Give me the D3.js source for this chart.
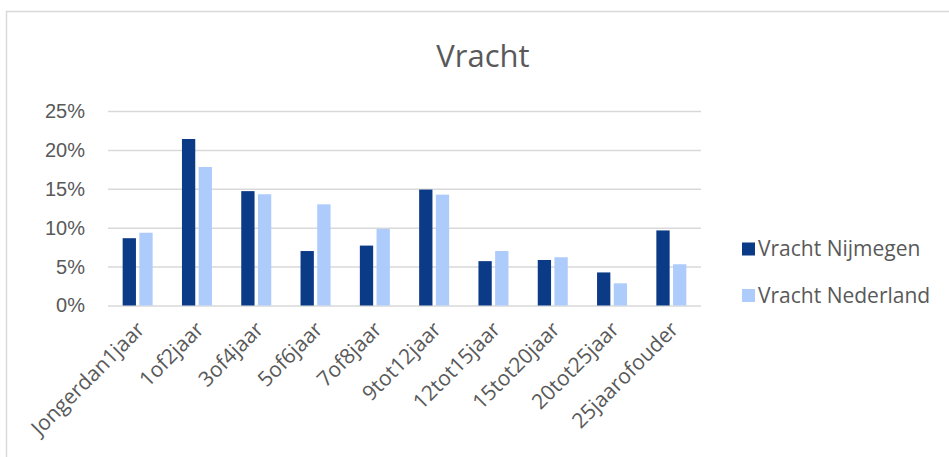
<!DOCTYPE html>
<html>
<head>
<meta charset="utf-8">
<script src="https://cdn.jsdelivr.net/npm/d3@7"></script>
<style>
  body { margin: 0; background: #fff; }
  svg { display: block; font-family: "Open Sans", "Liberation Sans", sans-serif; }
</style>
</head>
<body>
<div id="chart"></div>
<script>
// data
var categories = ['Jongerdan1jaar', '1of2jaar', '3of4jaar', '5of6jaar', '7of8jaar',
  '9tot12jaar', '12tot15jaar', '15tot20jaar', '20tot25jaar', '25jaarofouder'];
var seriesNames = ['Vracht Nijmegen', 'Vracht Nederland'];
var nijmegen = [8.65, 21.4, 14.7, 7.0, 7.7, 14.9, 5.7, 5.85, 4.25, 9.65];
var nederland = [9.35, 17.8, 14.3, 13.0, 9.85, 14.25, 7.0, 6.2, 2.85, 5.3];
var yTicks = [0, 5, 10, 15, 20, 25];

var width = 949, height = 457;
var colors = ['#0b3a87', '#adcbfb'];
var textColor = '#595959';

var svg = d3.select('#chart').append('svg')
  .attr('width', width)
  .attr('height', height);

// chart frame (runs off the right and bottom edge)
svg.append('path')
  .attr('d', 'M6.5,' + (height + 5) + 'V11.5H' + (width + 5))
  .attr('fill', 'none')
  .attr('stroke', '#d9d9d9')
  .attr('stroke-width', 1.5);

var plot = { left: 108, right: 701, top: 111, bottom: 305.5 };

var x = d3.scaleBand()
  .domain(categories)
  .range([plot.left, plot.right]);

var y = d3.scaleLinear()
  .domain([0, 25])
  .range([plot.bottom, plot.top]);

// gridlines + y labels
svg.append('g')
  .attr('transform', 'translate(' + plot.left + ',0)')
  .call(d3.axisLeft(y).tickValues(yTicks).tickSize(-(plot.right - plot.left))
    .tickFormat(function(d) { return d + '%'; }).tickPadding(23))
  .call(function(g) {
    g.select('.domain').remove();
    g.selectAll('.tick line').attr('stroke', '#d9d9d9').attr('stroke-width', 1.5);
    g.selectAll('.tick text').attr('fill', textColor).attr('font-size', 20);
  });

// bars
var barW = 13.3, gap = 3.4;
var rows = categories.map(function(c, i) { return { cat: c, vals: [nijmegen[i], nederland[i]] }; });

rows.forEach(function(r) {
  var cx = x(r.cat) + x.bandwidth() / 2;
  svg.selectAll(null)
    .data(r.vals)
    .enter().append('rect')
    .attr('x', function(d, j) { return j === 0 ? cx - gap / 2 - barW : cx + gap / 2; })
    .attr('y', function(d) { return y(d); })
    .attr('width', barW)
    .attr('height', function(d) { return y(0) - y(d); })
    .attr('fill', function(d, j) { return colors[j]; });
});

// x labels, rotated
svg.append('g').selectAll('text')
  .data(categories)
  .enter().append('text')
  .attr('transform', function(d) {
    return 'translate(' + (x(d) + x.bandwidth() / 2 + 3) + ',' + (plot.bottom + 20) + ') rotate(-45)';
  })
  .attr('text-anchor', 'end')
  .attr('dy', '0.35em')
  .attr('fill', textColor)
  .attr('font-size', 21)
  .text(function(d) { return d; });

// title
svg.append('text')
  .attr('x', 483)
  .attr('y', 67)
  .attr('text-anchor', 'middle')
  .attr('fill', textColor)
  .attr('font-size', 31)
  .text('Vracht');

// legend
var legend = svg.append('g').selectAll('g')
  .data(seriesNames)
  .enter().append('g')
  .attr('transform', function(d, i) { return 'translate(742,' + (249 + i * 46.5) + ')'; });

legend.append('rect')
  .attr('y', -6.5)
  .attr('width', 13)
  .attr('height', 13)
  .attr('fill', function(d, i) { return colors[i]; });

legend.append('text')
  .attr('x', 16)
  .attr('dy', '0.35em')
  .attr('fill', textColor)
  .attr('font-size', 21)
  .text(function(d) { return d; });
</script>
</body>
</html>
